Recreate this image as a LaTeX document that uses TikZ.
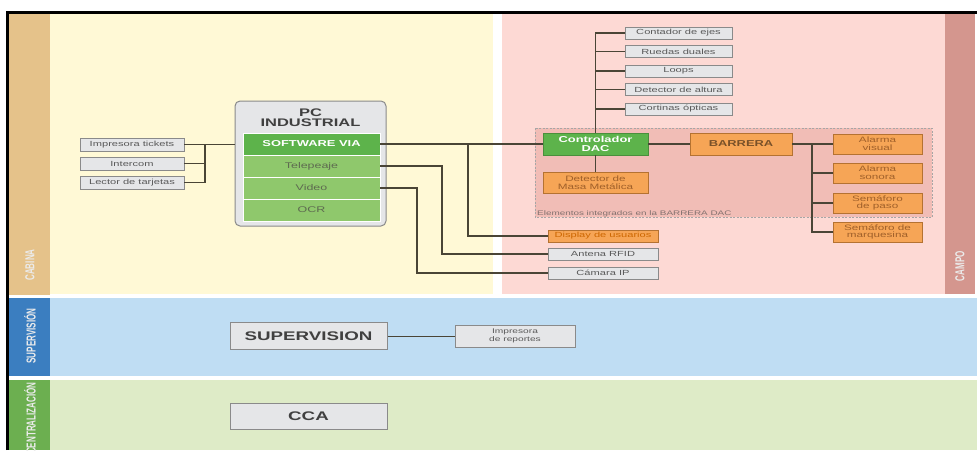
\documentclass[tikz,border=0pt]{standalone}
\usepackage{fontspec}
\setmainfont{Liberation Sans}[FakeStretch=1.5]
\newfontfamily\stripfont{Liberation Sans}[FakeStretch=0.62]
\usetikzlibrary{calc}

\definecolor{cabinabg}{HTML}{FFF9D6}
\definecolor{campobg}{HTML}{FDD9D4}
\definecolor{cabinastrip}{HTML}{E5C28A}
\definecolor{campostrip}{HTML}{D4968E}
\definecolor{supbg}{HTML}{BFDDF3}
\definecolor{supstrip}{HTML}{3B7EC0}
\definecolor{cenbg}{HTML}{DEEBC7}
\definecolor{censtrip}{HTML}{6CAF50}
\definecolor{dacbg}{HTML}{F1BDB6}
\definecolor{boxgray}{HTML}{E5E6E8}
\definecolor{boxedge}{HTML}{8A8A8A}
\definecolor{orfill}{HTML}{F6A556}
\definecolor{oredge}{HTML}{B57231}
\definecolor{ortext}{HTML}{A0602A}
\definecolor{gdark}{HTML}{5DB34B}
\definecolor{glight}{HTML}{8FC86C}
\definecolor{gtext}{HTML}{5E6B50}
\definecolor{wirecol}{HTML}{4A4536}

\tikzset{
  graybox/.style={draw=boxedge, line width=0.9pt, fill=boxgray, text=black!65,
    font=\fontsize{7.4}{8}\selectfont, inner sep=0pt, align=center},
  orbox/.style={draw=oredge, line width=0.9pt, fill=orfill, text=ortext,
    font=\fontsize{7.8}{7.6}\selectfont, inner sep=0pt, align=center},
  greenrow/.style={draw=white, line width=0.7pt, fill=glight, text=gtext,
    font=\fontsize{8.3}{9}\selectfont, minimum width=137pt, minimum height=22pt, inner sep=0pt},
  wire/.style={draw=wirecol, line width=1.3pt},
  striplabel/.style={rotate=90, text=white!92!black, inner sep=0pt,
    font=\stripfont\bfseries\fontsize{13}{13}\selectfont},
  bigbox/.style={draw=boxedge, line width=1pt, fill=boxgray, text=black!75,
    font=\bfseries\fontsize{12.5}{13}\selectfont, minimum width=157pt, inner sep=0pt}
}

\begin{document}
\begin{tikzpicture}[x=1pt,y=-1pt]
\useasboundingbox (0,0) rectangle (977,450);
\clip (0,0) rectangle (977,450);

% swim lanes
\fill[cabinastrip] (9,14) rectangle (50,295);
\fill[cabinabg] (50,14) rectangle (493,294);
\fill[campobg] (502,14) rectangle (945,294);
\fill[campostrip] (945,14) rectangle (975,294);
\fill[supstrip] (9,298) rectangle (50,376);
\fill[supbg] (50,298) rectangle (977,376);
\fill[censtrip] (9,380) rectangle (50,450);
\fill[cenbg] (50,380) rectangle (977,450);

% frame
\draw[line width=2.5pt] (7.5,450) -- (7.5,12.3) -- (977,12.3);

% lane titles
\node[striplabel] (lcab) at (30,265) {CABINA};
\node[striplabel] (lcam) at (960,266) {CAMPO};
\node[striplabel] (lsup) at (30,336) {SUPERVISIÓN};
\node[striplabel, anchor=east] (lcen) at (30,382) {CENTRALIZACIÓN};

% DAC barrier group
\draw[draw=black!35, dash pattern=on 2pt off 1.5pt, fill=dacbg, line width=0.8pt]
  (535,128) rectangle (932,217);
\node[anchor=base west, inner sep=0pt, text=black!45!dacbg!60!gray,
  font=\fontsize{6.6}{7}\selectfont] (grp) at (537,215) {Elementos integrados en la BARRERA DAC};

% cabin peripherals
\node[graybox, minimum width=104pt, minimum height=13pt] (imp) at (132,144.5) {Impresora tickets};
\node[graybox, minimum width=104pt, minimum height=13pt] (icom) at (132,163.5) {Intercom};
\node[graybox, minimum width=104pt, minimum height=13pt] (lect) at (132,182.5) {Lector de tarjetas};

% industrial PC
\node[draw=boxedge, line width=1pt, fill=boxgray, rounded corners=5pt,
  minimum width=151pt, minimum height=125pt, inner sep=0pt] (pc) at (310.5,163.5) {};
\node[font=\bfseries\fontsize{11}{9.5}\selectfont, text=black!75, align=center, inner sep=0pt]
  (pct) at (310.5,117.5) {PC\\INDUSTRIAL};
\node[greenrow, fill=gdark, text=white, font=\bfseries\fontsize{8.6}{9}\selectfont] (sw) at (311.5,144) {SOFTWARE VIA};
\node[greenrow] (tel) at (311.5,166) {Telepeaje};
\node[greenrow] (vid) at (311.5,188) {Video};
\node[greenrow] (ocr) at (311.5,210) {OCR};

% field devices
\node[graybox, minimum width=107pt, minimum height=12pt] (ce) at (678.5,33) {Contador de ejes};
\node[graybox, minimum width=107pt, minimum height=12pt] (rd) at (678.5,51.5) {Ruedas duales};
\node[graybox, minimum width=107pt, minimum height=12pt] (lo) at (678.5,71) {Loops};
\node[graybox, minimum width=107pt, minimum height=12pt] (da) at (678.5,89.5) {Detector de altura};
\node[graybox, minimum width=107pt, minimum height=12pt] (co) at (678.5,109) {Cortinas ópticas};

\node[draw=gdark!80!black, line width=0.9pt, fill=gdark, text=white, align=center,
  font=\bfseries\fontsize{8.6}{8.4}\selectfont, minimum width=105pt, minimum height=22pt, inner sep=0pt]
  (ctrl) at (595.5,144) {Controlador\\DAC};
\node[orbox, minimum width=105pt, minimum height=21pt] (det) at (595.5,182.5) {Detector de\\Masa Metálica};
\node[orbox, text=black!70!orfill!60!brown, font=\bfseries\fontsize{8.6}{9}\selectfont,
  minimum width=102pt, minimum height=22pt] (bar) at (741,144) {BARRERA};

\node[orbox, minimum width=89pt, minimum height=20pt] (av) at (877.5,144) {Alarma\\visual};
\node[orbox, minimum width=89pt, minimum height=20pt] (as) at (877.5,173) {Alarma\\sonora};
\node[orbox, minimum width=89pt, minimum height=20pt] (sp) at (877.5,203) {Semáforo\\de paso};
\node[orbox, minimum width=89pt, minimum height=20pt] (sm) at (877.5,232) {Semáforo de\\marquesina};

\node[orbox, text=orange!80!black, font=\fontsize{7.4}{8}\selectfont,
  minimum width=110pt, minimum height=12pt] (disp) at (603,236) {Display de usuarios};
\node[graybox, minimum width=110pt, minimum height=12pt] (rfid) at (603,254) {Antena RFID};
\node[graybox, minimum width=110pt, minimum height=12pt] (cam) at (603,273) {Cámara IP};

% supervision and centralisation
\node[bigbox, minimum height=27pt] (sup) at (308.5,336) {SUPERVISION};
\node[graybox, font=\fontsize{6.8}{7.4}\selectfont, minimum width=120pt, minimum height=22pt]
  (rep) at (515,336) {Impresora\\de reportes};
\node[bigbox, minimum height=26pt] (cca) at (308.5,416) {CCA};

% junction points of the buses
\coordinate (jl) at (205,0);
\coordinate (j1) at (468,144);
\coordinate (j2) at (442,0);
\coordinate (j3) at (417,0);
\coordinate (j4) at (812,0);

% cabin bus
\draw[wire] (imp.east) -- (imp.east -| pc.west);
\draw[wire] (icom.east) -- (icom.east -| jl);
\draw[wire] (lect.east) -- (lect.east -| jl) -- (imp.east -| jl);

% PC to field
\draw[wire] (sw.east) -- (ctrl.west);
\draw[wire] (j1) |- (disp.west);
\draw[wire] (tel.east) -- (tel.east -| j2) |- (rfid.west);
\draw[wire] (vid.east) -- (vid.east -| j3) |- (cam.west);

% controller bus
\draw[wire] (ctrl.north) -- (ctrl.north |- ce.west) -- (ce.west);
\draw[wire] (rd.west) -- (rd.west -| ctrl.north);
\draw[wire] (lo.west) -- (lo.west -| ctrl.north);
\draw[wire] (da.west) -- (da.west -| ctrl.north);
\draw[wire] (co.west) -- (co.west -| ctrl.north);
\draw[wire] (ctrl.south) -- (det.north);
\draw[wire] (ctrl.east) -- (bar.west);

% barrier bus
\draw[wire] (bar.east) -- (bar.east -| j4) |- (sm.west);
\draw[wire] (av.west) -- (av.west -| j4);
\draw[wire] (as.west) -- (as.west -| j4);
\draw[wire] (sp.west) -- (sp.west -| j4);

% supervision link
\draw[wire, line width=1pt] (sup.east) -- (rep.west);
\end{tikzpicture}
\end{document}
